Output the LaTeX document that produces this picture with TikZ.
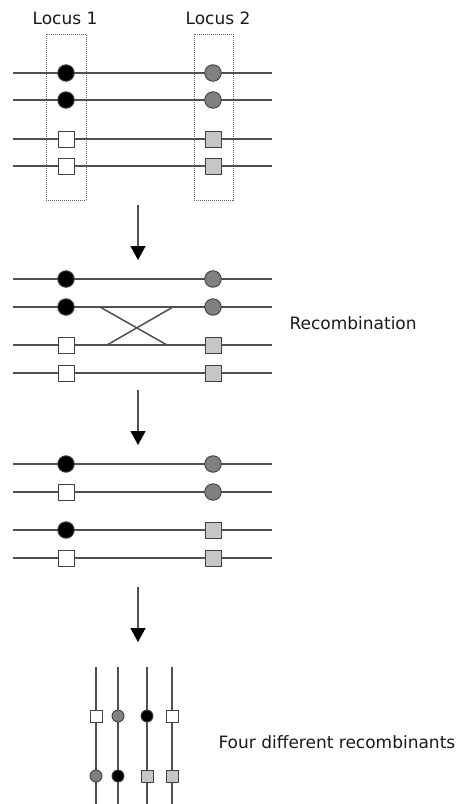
\documentclass[tikz,border=0pt]{standalone}
\usepackage{fontspec}
\setmainfont{DejaVu Sans}
\usetikzlibrary{arrows.meta}
\definecolor{chromc}{HTML}{505050}
\definecolor{alleleB}{HTML}{808080}
\definecolor{alleleD}{HTML}{C6C6C6}
\begin{document}
\begin{tikzpicture}[x=1pt,y=-1pt,
  chrom/.style={draw=chromc, line width=1.5pt},
  allele/.style={inner sep=0pt, draw=black!75, line width=0.9pt},
  blackdot/.style={allele, circle, fill=black, minimum size=16.5pt},
  greydot/.style={allele, circle, fill=alleleB, minimum size=16.5pt},
  whitesq/.style={allele, rectangle, fill=white, minimum size=16pt},
  greysq/.style={allele, rectangle, fill=alleleD, minimum size=16pt},
  small/.style={minimum size=12pt},
  locusbox/.style={draw=black!60, line width=0.8pt, dash pattern=on 1pt off 1pt},
  step arrow/.style={draw=chromc, line width=1.5pt, -{Triangle[width=15pt,length=14pt,black]}},
  lbl/.style={font=\fontsize{17}{20}\selectfont, text=black!90}
]
\useasboundingbox (0,0) rectangle (463,804);

% locus labels and dotted locus boxes
\node[lbl] (L1) at (65,18) {Locus 1};
\node[lbl] (L2) at (218,18) {Locus 2};
\draw[locusbox] (46,34) rectangle (86,200);
\draw[locusbox] (194,34) rectangle (233,200);

% parental chromosomes
\foreach \n/\y/\a/\b in {p1/73/blackdot/greydot, p2/100/blackdot/greydot,
                          p3/139/whitesq/greysq, p4/166/whitesq/greysq} {
  \coordinate (\n w) at (13,\y);
  \coordinate (\n e) at (272,\y);
  \draw[chrom] (\n w) -- (\n e);
  \node[\a] (\n A) at (66,\y) {};
  \node[\b] (\n B) at (213,\y) {};
}

% crossing over
\foreach \n/\y/\a/\b in {c1/279/blackdot/greydot, c2/307/blackdot/greydot,
                          c3/345/whitesq/greysq, c4/373/whitesq/greysq} {
  \coordinate (\n w) at (13,\y);
  \coordinate (\n e) at (272,\y);
  \draw[chrom] (\n w) -- (\n e);
  \node[\a] (\n A) at (66,\y) {};
  \node[\b] (\n B) at (213,\y) {};
}
\coordinate (x1) at (100,307);
\coordinate (x2) at (167,345);
\coordinate (x3) at (173,307);
\coordinate (x4) at (107,345);
\draw[chrom] (x1) -- (x2);
\draw[chrom] (x3) -- (x4);
\node[lbl, anchor=west] (rec) at (286,323) {Recombination};

% recombined chromosomes
\foreach \n/\y/\a/\b in {r1/464/blackdot/greydot, r2/492/whitesq/greydot,
                          r3/530/blackdot/greysq, r4/558/whitesq/greysq} {
  \coordinate (\n w) at (13,\y);
  \coordinate (\n e) at (272,\y);
  \draw[chrom] (\n w) -- (\n e);
  \node[\a] (\n A) at (66,\y) {};
  \node[\b] (\n B) at (213,\y) {};
}

% the four recombinant gametes
\foreach \n/\x/\a/\b in {g1/96/whitesq/greydot, g2/118/greydot/blackdot,
                          g3/147/blackdot/greysq, g4/172/whitesq/greysq} {
  \coordinate (\n t) at (\x,667);
  \coordinate (\n b) at (\x,804);
  \draw[chrom] (\n t) -- (\n b);
  \node[\a, small] (\n A) at (\x,716) {};
  \node[\b, small] (\n B) at (\x,776) {};
}
\node[lbl, anchor=west] (four) at (215,742) {Four different recombinants};

% arrows between the stages
\coordinate (a1s) at (138,205); \coordinate (a1e) at (138,260);
\coordinate (a2s) at (138,390); \coordinate (a2e) at (138,445);
\coordinate (a3s) at (138,587); \coordinate (a3e) at (138,642);
\draw[step arrow] (a1s) -- (a1e);
\draw[step arrow] (a2s) -- (a2e);
\draw[step arrow] (a3s) -- (a3e);
\end{tikzpicture}
\end{document}
